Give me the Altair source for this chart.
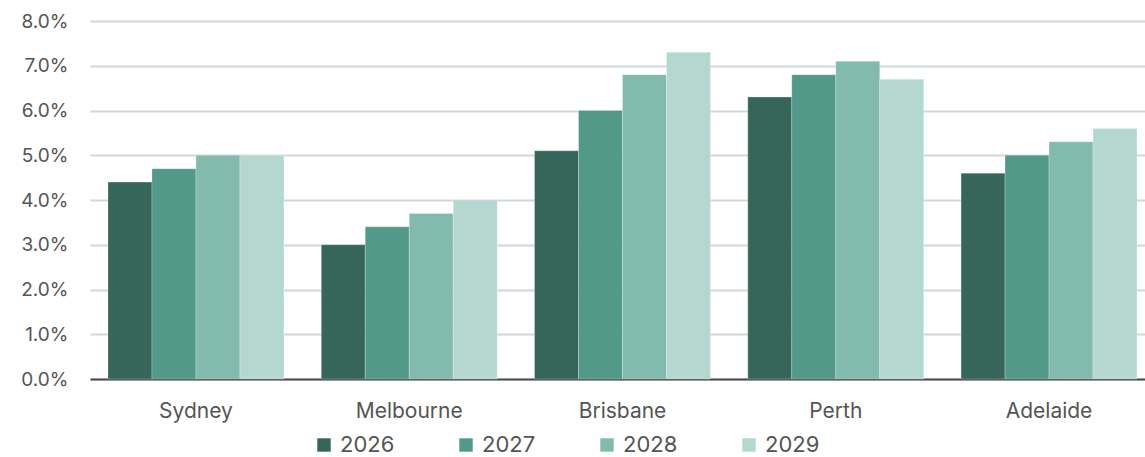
import altair as alt
import pandas as pd

cities = ["Sydney", "Melbourne", "Brisbane", "Perth", "Adelaide"]
years = ["2026", "2027", "2028", "2029"]
v2026 = [4.4, 3.0, 5.1, 6.3, 4.6]
v2027 = [4.7, 3.4, 6.0, 6.8, 5.0]
v2028 = [5.0, 3.7, 6.8, 7.1, 5.3]
v2029 = [5.0, 4.0, 7.3, 6.7, 5.6]
colors = ["#36665A", "#52998A", "#82BBAD", "#B4D7CF"]

rows = []
for y, vals in zip(years, [v2026, v2027, v2028, v2029]):
    for c, v in zip(cities, vals):
        rows.append({"city": c, "year": y, "value": v / 100})
df = pd.DataFrame(rows)

font = "Inter"
chart = alt.Chart(df).mark_bar(stroke="#ffffff", strokeWidth=0.5, strokeOpacity=0.5).encode(
    x=alt.X("city:N", sort=cities, title=None,
            scale=alt.Scale(range=[0, 1065], paddingInner=0.175, paddingOuter=0.0844),
            axis=alt.Axis(labelAngle=0, ticks=False, labelPadding=21, labelFontSize=21,
                          labelColor="#555555", labelFont=font, domain=True,
                          domainColor="#4a4a4a", domainWidth=2, grid=False)),
    xOffset=alt.XOffset("year:N", sort=years),
    y=alt.Y("value:Q", title=None,
            scale=alt.Scale(domain=[0, 0.08]),
            axis=alt.Axis(format=".1%", values=[i / 100 for i in range(9)], ticks=False,
                          domain=False, labelPadding=22, labelFontSize=19,
                          labelColor="#555555", labelFont=font,
                          gridColor="#CFD8D8", gridWidth=2)),
    color=alt.Color("year:N", sort=years,
                    scale=alt.Scale(domain=years, range=colors),
                    legend=alt.Legend(title=None, orient="none", direction="horizontal",
                                      legendX=223, legendY=413, symbolType="square",
                                      symbolSize=180, symbolStrokeWidth=0,
                                      labelFontSize=22, labelColor="#555555",
                                      labelFont=font, columnPadding=60, labelOffset=5)),
).properties(
    width=1055, height=358,
    padding={"left": 90, "top": 21, "right": 0, "bottom": 78},
    autosize=alt.AutoSizeParams(type="none"),
).configure_view(stroke=None)

chart.save("out.html", embed_options={"renderer": "svg", "actions": False})
